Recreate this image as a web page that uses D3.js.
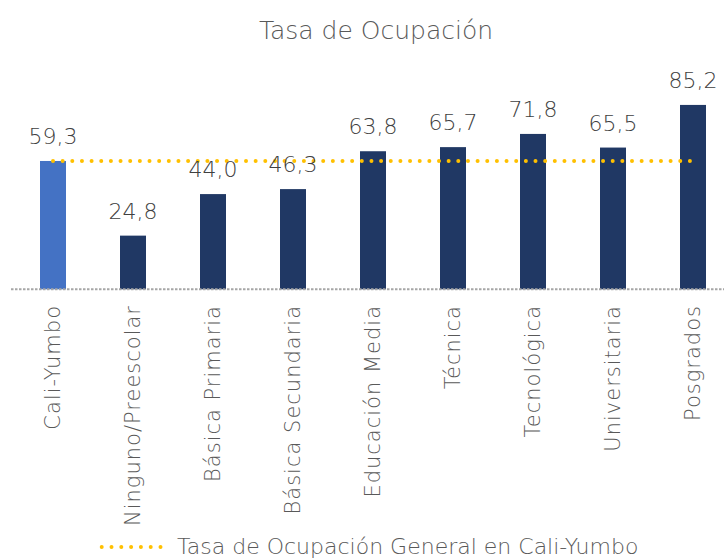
<!DOCTYPE html>
<html>
<head>
<meta charset="utf-8">
<script src="https://cdn.jsdelivr.net/npm/d3@7"></script>
<style>
  body { margin: 0; background: #fff; }
  text { font-family: "DejaVu Sans", sans-serif; font-weight: 200; }
</style>
</head>
<body>
<script>
// data
var categories = ["Cali-Yumbo", "Ninguno/Preescolar", "Básica Primaria", "Básica Secundaria",
                  "Educación Media", "Técnica", "Tecnológica", "Universitaria", "Posgrados"];
var values = [59.3, 24.8, 44.0, 46.3, 63.8, 65.7, 71.8, 65.5, 85.2];
var generalRate = 59.3;
var title = "Tasa de Ocupación";
var legendLabel = "Tasa de Ocupación General en Cali-Yumbo";

const width = 724,
      height = 558;

const highlight_col = "#4472C4",
      bar_col = "#203864",
      ref_col = "#FFC000",
      base_col = "#A6A6A6";

var svg = d3.select("body")
    .append("svg")
    .attr("width", width)
    .attr("height", height);

var x = d3.scaleBand()
    .domain(categories)
    .range([13, 733])
    .paddingInner(0.675)
    .paddingOuter(0.3375);

var y = d3.scaleLinear()
    .domain([0, 100])
    .range([289.3, 72.9]);

// title
svg.append("text")
    .text(title)
    .attr("x", 376)
    .attr("y", 39)
    .attr("font-size", "25px")
    .attr("fill", "#595959")
    .attr("text-anchor", "middle");

// bars
svg.append("g").selectAll("rect")
    .data(values)
    .join("rect")
        .attr("x", (d, i) => x(categories[i]))
        .attr("y", d => y(d))
        .attr("width", x.bandwidth())
        .attr("height", d => y(0) - y(d))
        .attr("fill", (d, i) => i == 0 ? highlight_col : bar_col);

// baseline
svg.append("line")
    .attr("x1", 11)
    .attr("x2", width)
    .attr("y1", y(0))
    .attr("y2", y(0))
    .attr("stroke", base_col)
    .attr("stroke-width", 2)
    .attr("stroke-dasharray", "2.5 1.5");

// reference line (general rate)
var first = categories[0],
    last = categories[categories.length - 1];

svg.append("line")
    .attr("x1", x(first) + x.bandwidth() / 2)
    .attr("x2", x(last) + x.bandwidth() / 2)
    .attr("y1", y(generalRate))
    .attr("y2", y(generalRate))
    .attr("stroke", ref_col)
    .attr("stroke-width", 4)
    .attr("stroke-linecap", "round")
    .attr("stroke-dasharray", "0 9.65");

// value labels
svg.append("g").selectAll("text")
    .data(values)
    .join("text")
        .text(d => d.toFixed(1).replace(".", ","))
        .attr("x", (d, i) => x(categories[i]) + x.bandwidth() / 2)
        .attr("y", d => y(d) - 17)
        .attr("font-size", "22px")
        .attr("fill", "#404040")
        .attr("text-anchor", "middle");

// category labels, rotated
svg.append("g").selectAll("text")
    .data(categories)
    .join("text")
        .text(d => d)
        .attr("transform", d => "translate(" + (x(d) + x.bandwidth() / 2) + ",305) rotate(-90)")
        .attr("dy", "0.35em")
        .attr("font-size", "21px")
        .attr("letter-spacing", "1px")
        .attr("fill", "#595959")
        .attr("text-anchor", "end");

// legend
var legend = svg.append("g");

legend.append("line")
    .attr("x1", 101.7)
    .attr("x2", 161)
    .attr("y1", 547)
    .attr("y2", 547)
    .attr("stroke", ref_col)
    .attr("stroke-width", 4)
    .attr("stroke-linecap", "round")
    .attr("stroke-dasharray", "0 9.8");

legend.append("text")
    .text(legendLabel)
    .attr("x", 177)
    .attr("y", 554)
    .attr("font-size", "22px")
    .attr("fill", "#595959")
    .attr("text-anchor", "start");
</script>
</body>
</html>
